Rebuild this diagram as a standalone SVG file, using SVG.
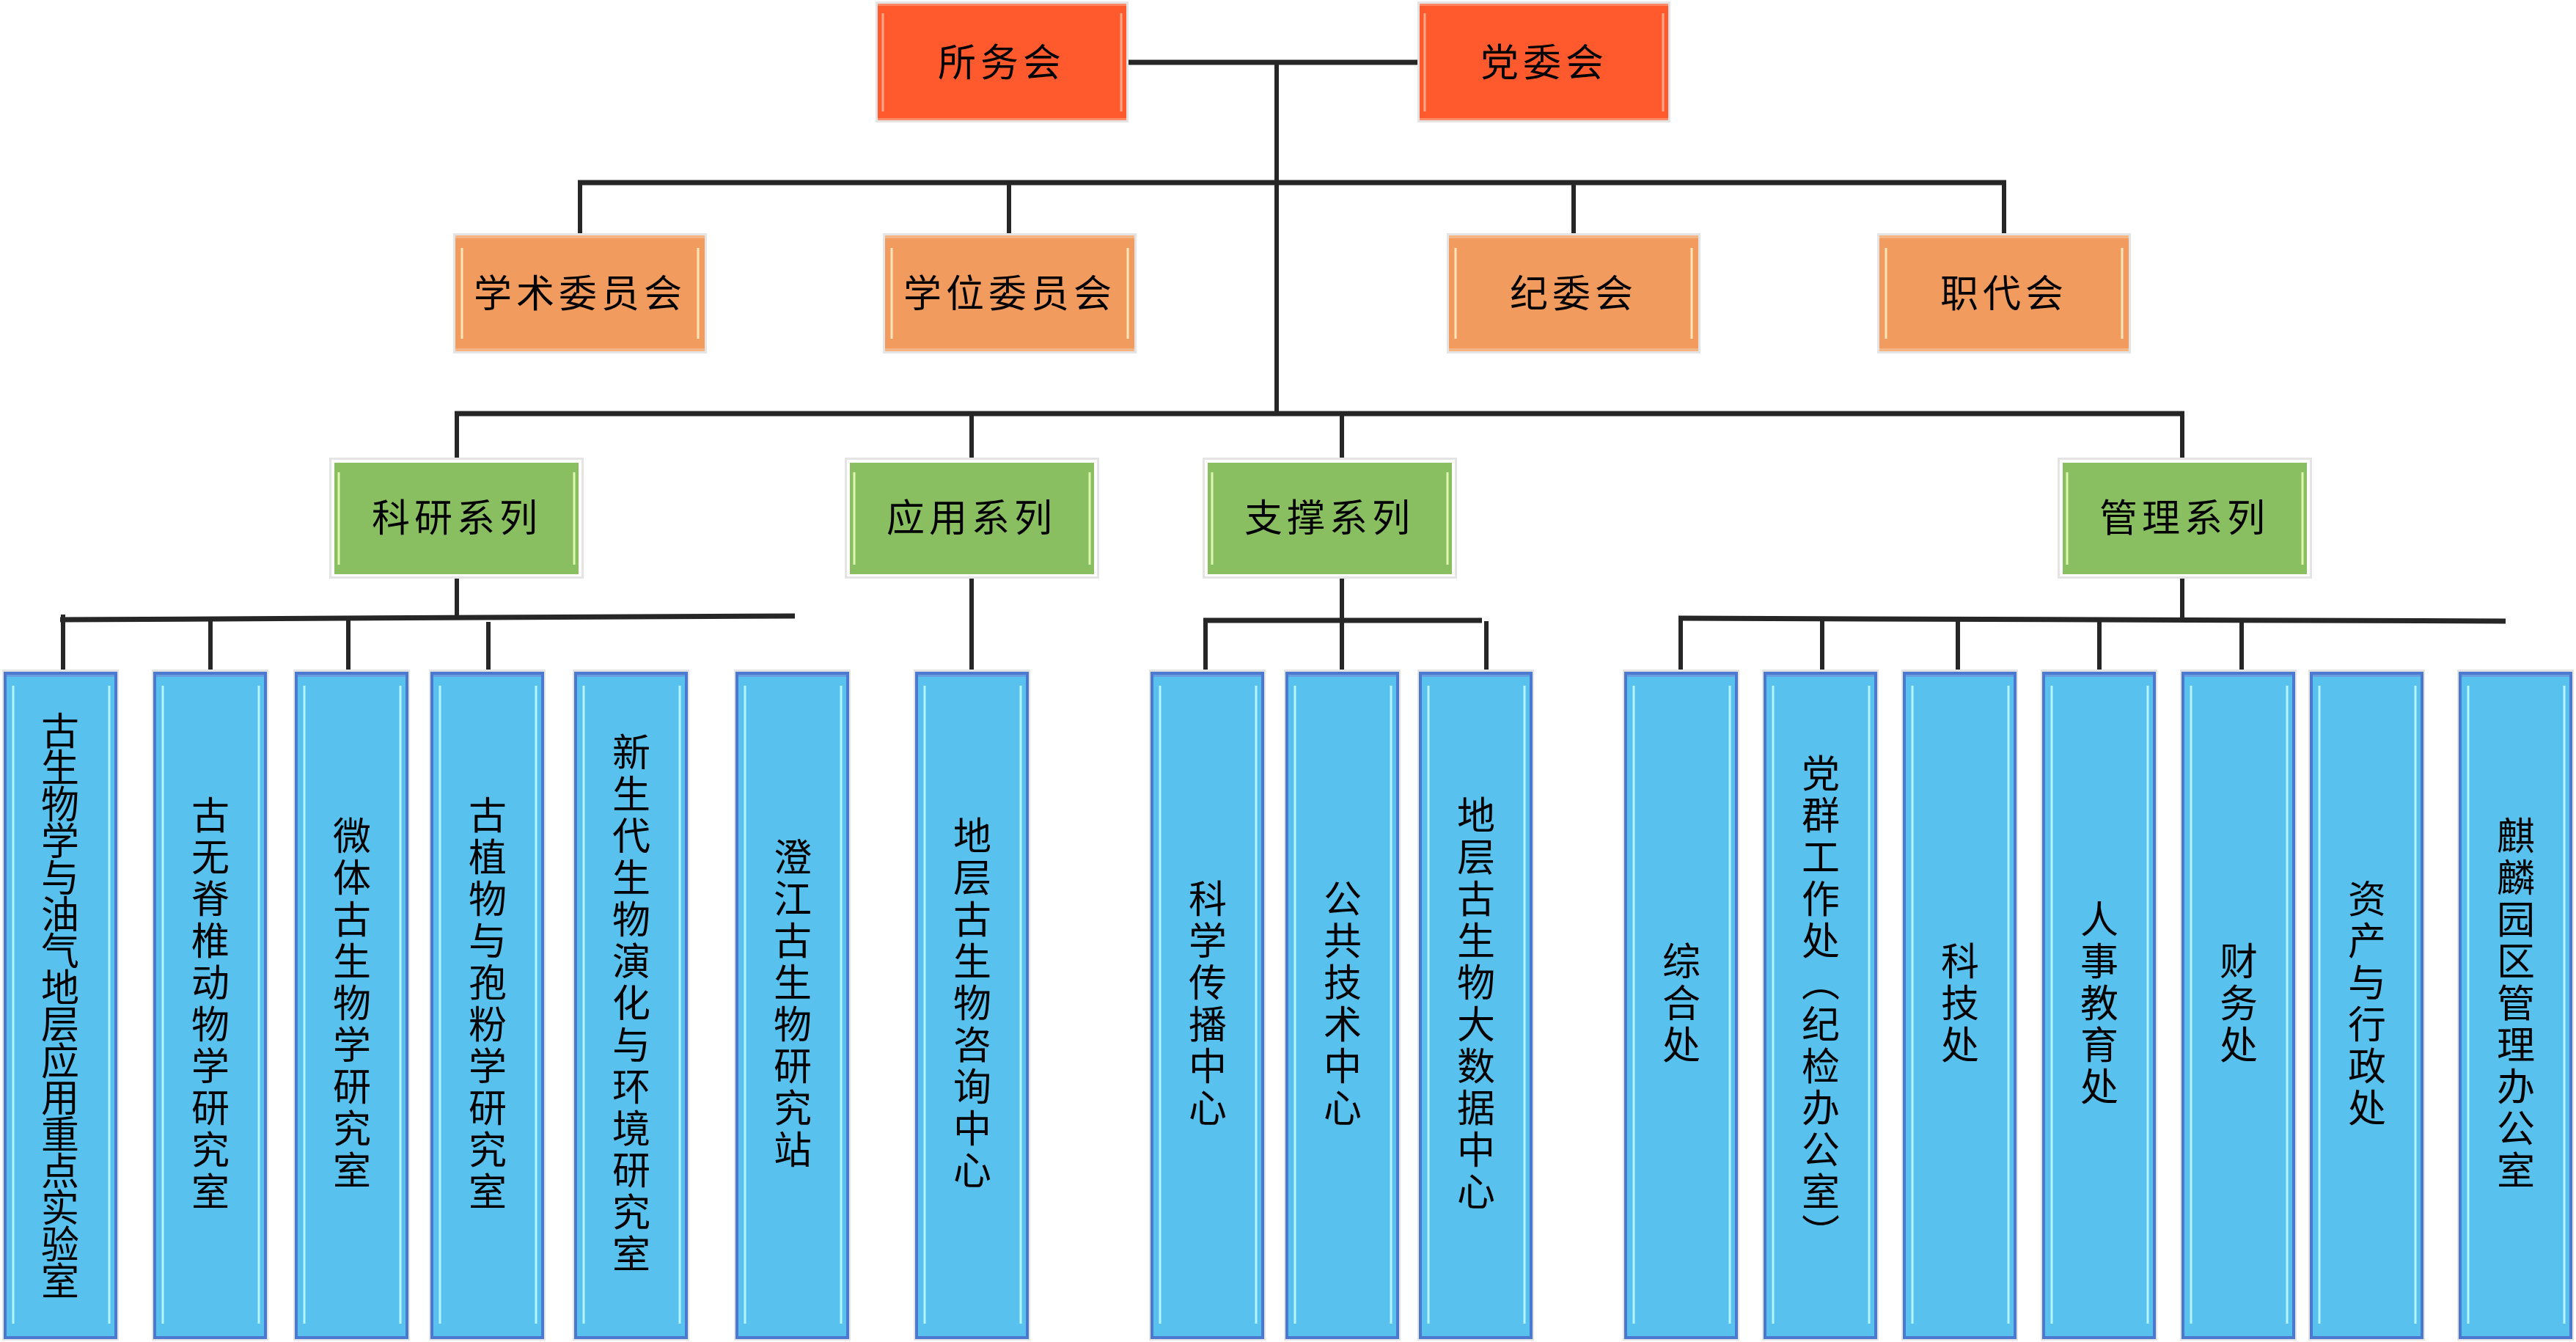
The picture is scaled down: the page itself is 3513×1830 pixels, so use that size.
<svg xmlns="http://www.w3.org/2000/svg" xmlns:xlink="http://www.w3.org/1999/xlink" width="3513" height="1830" viewBox="0 0 3513 1830">
<style>
.ln{stroke:#262626;stroke-width:7;fill:none;stroke-linecap:butt}
.lv{stroke:#262626;stroke-width:6;fill:none;stroke-linecap:butt}
.t{font-family:"Noto Sans CJK SC","Noto Sans",sans-serif;font-size:52px;fill:#000;text-anchor:middle;dominant-baseline:central;letter-spacing:6px}
.v{writing-mode:vertical-rl;text-orientation:mixed;letter-spacing:5px}
</style>
<defs>
<g id="redShape">
<rect x="0" y="0" width="345" height="165" fill="#E4E4E4"/>
<rect x="3" y="3" width="339" height="159" fill="#FF5A2E"/>
<rect x="3" y="3" width="339" height="3" fill="#FF8A68"/>
<rect x="3" y="159" width="339" height="3" fill="#FF8A68"/>
<line x1="10" y1="16" x2="10" y2="150" stroke="#FFA888" stroke-width="3"/>
<line x1="335" y1="16" x2="335" y2="150" stroke="#FFA888" stroke-width="3"/>
</g>
<g id="orgShape">
<rect x="0" y="0" width="346" height="164" fill="#E4E4E4"/>
<rect x="3" y="3" width="340" height="158" fill="#F29B5E"/>
<rect x="3" y="3" width="340" height="4" fill="#F6B585"/>
<rect x="3" y="157" width="340" height="4" fill="#F6B585"/>
<line x1="12" y1="20" x2="12" y2="144" stroke="#FFE4B8" stroke-width="3"/>
<line x1="334" y1="20" x2="334" y2="144" stroke="#FFE4B8" stroke-width="3"/>
</g>
<g id="grnShape">
<rect x="1.5" y="1.5" width="344" height="162" fill="#FFFFFF" stroke="#E4E4E4" stroke-width="3"/>
<rect x="7" y="7" width="333" height="152" fill="#89BE61"/>
<line x1="13" y1="20" x2="13" y2="146" stroke="#DDF8AE" stroke-width="3"/>
<line x1="334" y1="20" x2="334" y2="146" stroke="#DDF8AE" stroke-width="3"/>
</g>
<g id="bluShape">
<rect x="0" y="0" width="159" height="915" fill="#E4E4E4"/>
<rect x="4" y="5" width="151" height="906" fill="#58C1EE" stroke="#4A79CF" stroke-width="4"/>
<rect x="6" y="7" width="147" height="3" fill="#6A9EE0"/>
<line x1="15" y1="22" x2="15" y2="892" stroke="#B4F6FF" stroke-width="3"/>
<line x1="146" y1="22" x2="146" y2="892" stroke="#B4F6FF" stroke-width="3"/>
</g>
</defs>
<rect x="0" y="0" width="3513" height="1830" fill="#FFFFFF"/>

<g id="connectors">
<path class="ln" d="M1539 85 H1933"/>
<path class="lv" d="M1741 85 V564"/>
<path class="ln" d="M788 249 H2736"/>
<path class="lv" d="M791 249 V318 M1376 249 V318 M2146 249 V318 M2733 249 V318"/>
<path class="ln" d="M620 564 H2979"/>
<path class="lv" d="M623 564 V624 M1325 564 V624 M1830 564 V624 M2976 564 V624"/>
<path class="lv" d="M623 789 V842 M1325 789 V913 M1830 789 V913 M2976 789 V845"/>
<path class="ln" d="M82 845 L1084 840"/>
<path class="lv" d="M86 838 V913 M287 844 V913 M475 846 V913 M666 848 V913"/>
<path class="ln" d="M1641 846 H2021"/>
<path class="lv" d="M1644 843 V913 M2027 847 V913"/>
<path class="ln" d="M2289 843 L3417 847"/>
<path class="lv" d="M2292 840 V913 M2485 846 V913 M2670 846 V913 M2863 846 V913 M3057 846 V913"/>
</g>

<g id="n-suowuhui"><use xlink:href="#redShape" x="1194" y="2"/><text class="t" x="1366" y="81">所务会</text></g>
<g id="n-dangweihui"><use xlink:href="#redShape" x="1933" y="2"/><text class="t" x="2106" y="81">党委会</text></g>

<g id="n-xueshu"><use xlink:href="#orgShape" x="618" y="318"/><text class="t" x="791" y="396">学术委员会</text></g>
<g id="n-xuewei"><use xlink:href="#orgShape" x="1204" y="318"/><text class="t" x="1377" y="396">学位委员会</text></g>
<g id="n-jiwei"><use xlink:href="#orgShape" x="1973" y="318"/><text class="t" x="2146" y="396">纪委会</text></g>
<g id="n-zhidai"><use xlink:href="#orgShape" x="2560" y="318"/><text class="t" x="2733" y="396">职代会</text></g>

<g id="n-keyan"><use xlink:href="#grnShape" x="449" y="624"/><text class="t" x="623" y="702">科研系列</text></g>
<g id="n-yingyong"><use xlink:href="#grnShape" x="1152" y="624"/><text class="t" x="1325" y="702">应用系列</text></g>
<g id="n-zhicheng"><use xlink:href="#grnShape" x="1640" y="624"/><text class="t" x="1813" y="702">支撑系列</text></g>
<g id="n-guanli"><use xlink:href="#grnShape" x="2806" y="624"/><text class="t" x="2979" y="702">管理系列</text></g>

<g id="n-b1"><use xlink:href="#bluShape" x="3" y="913"/><text class="t v" x="82" y="1370" style="letter-spacing:-2px">古生物学与油气地层应用重点实验室</text></g>
<g id="n-b2"><use xlink:href="#bluShape" x="207" y="913"/><text class="t v" x="287" y="1370">古无脊椎动物学研究室</text></g>
<g id="n-b3"><use xlink:href="#bluShape" x="400" y="913"/><text class="t v" x="480" y="1370">微体古生物学研究室</text></g>
<g id="n-b4"><use xlink:href="#bluShape" x="585" y="913"/><text class="t v" x="665" y="1370">古植物与孢粉学研究室</text></g>
<g id="n-b5"><use xlink:href="#bluShape" x="781" y="913"/><text class="t v" x="861" y="1370">新生代生物演化与环境研究室</text></g>
<g id="n-b6"><use xlink:href="#bluShape" x="1001" y="913"/><text class="t v" x="1081" y="1370">澄江古生物研究站</text></g>
<g id="n-b7"><use xlink:href="#bluShape" x="1246" y="913"/><text class="t v" x="1326" y="1370">地层古生物咨询中心</text></g>
<g id="n-b8"><use xlink:href="#bluShape" x="1567" y="913"/><text class="t v" x="1647" y="1370">科学传播中心</text></g>
<g id="n-b9"><use xlink:href="#bluShape" x="1751" y="913"/><text class="t v" x="1831" y="1370">公共技术中心</text></g>
<g id="n-b10"><use xlink:href="#bluShape" x="1933" y="913"/><text class="t v" x="2013" y="1370">地层古生物大数据中心</text></g>
<g id="n-b11"><use xlink:href="#bluShape" x="2213" y="913"/><text class="t v" x="2293" y="1370">综合处</text></g>
<g id="n-b12"><use xlink:href="#bluShape" x="2403" y="913"/><text class="t v" x="2483" y="1370">党群工作处（纪检办公室）</text></g>
<g id="n-b13"><use xlink:href="#bluShape" x="2593" y="913"/><text class="t v" x="2673" y="1370">科技处</text></g>
<g id="n-b14"><use xlink:href="#bluShape" x="2783" y="913"/><text class="t v" x="2863" y="1370">人事教育处</text></g>
<g id="n-b15"><use xlink:href="#bluShape" x="2973" y="913"/><text class="t v" x="3053" y="1370">财务处</text></g>
<g id="n-b16"><use xlink:href="#bluShape" x="3148" y="913"/><text class="t v" x="3228" y="1370">资产与行政处</text></g>
<g id="n-b17"><use xlink:href="#bluShape" x="3351" y="913"/><text class="t v" x="3431" y="1370">麒麟园区管理办公室</text></g>
</svg>
